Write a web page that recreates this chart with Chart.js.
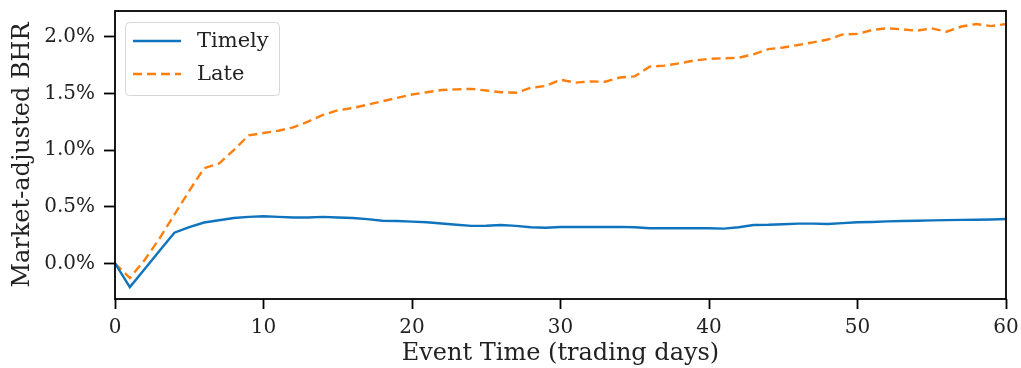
<!DOCTYPE html>
<html>
<head>
<meta charset="utf-8">
<script src="https://cdn.jsdelivr.net/npm/chart.js@4"></script>
<style>
  html, body { margin: 0; padding: 0; background: #fff; }
  #wrap { width: 1021px; height: 368px; }
</style>
</head>
<body>
<div id="wrap"><canvas id="bhrChart" width="1021" height="368"></canvas></div>
<script>
// Event days 0..60
const days = [];
for (let d = 0; d <= 60; d++) days.push(d);

// Market-adjusted BHR, in percent
const timely = [
  0.00, -0.21, -0.05, 0.11, 0.27, 0.32, 0.36, 0.38, 0.40, 0.41,
  0.415, 0.41, 0.405, 0.405, 0.41, 0.405, 0.40, 0.39, 0.376, 0.373,
  0.368, 0.362, 0.352, 0.34, 0.33, 0.332, 0.338, 0.33, 0.318, 0.314,
  0.32, 0.322, 0.32, 0.32, 0.322, 0.318, 0.31, 0.309, 0.309, 0.309,
  0.309, 0.306, 0.318, 0.338, 0.34, 0.345, 0.35, 0.35, 0.347, 0.355,
  0.362, 0.365, 0.37, 0.373, 0.376, 0.379, 0.381, 0.383, 0.385, 0.387,
  0.391
];
const late = [
  0.00, -0.13, 0.03, 0.22, 0.43, 0.64, 0.84, 0.88, 1.00, 1.13,
  1.15, 1.17, 1.20, 1.25, 1.31, 1.35, 1.37, 1.40, 1.43, 1.46,
  1.49, 1.51, 1.53, 1.535, 1.54, 1.525, 1.51, 1.505, 1.55, 1.565,
  1.62, 1.595, 1.605, 1.603, 1.64, 1.65, 1.735, 1.745, 1.765, 1.79,
  1.805, 1.81, 1.815, 1.845, 1.89, 1.905, 1.927, 1.95, 1.975, 2.02,
  2.025, 2.06, 2.075, 2.065, 2.053, 2.074, 2.044, 2.09, 2.112, 2.094,
  2.112
];
const yTicks = [0, 0.5, 1.0, 1.5, 2.0];
const xTicks = [0, 10, 20, 30, 40, 50, 60];

const serif = "'DejaVu Serif', serif";
const blue = '#0f74bd';
const orange = '#ff7f0e';
const ink = '#222';

// frame around the plot + legend inside the axes
const framePlugin = {
  id: 'frame',
  afterDatasetsDraw(chart) {
    const { ctx, chartArea: a } = chart;
    ctx.save();
    ctx.strokeStyle = '#000';
    ctx.lineWidth = 1.8;
    ctx.strokeRect(a.left, a.top, a.right - a.left, a.bottom - a.top);

    // legend box
    const bx = 125, by = 22, bw = 154, bh = 73;
    ctx.fillStyle = 'rgba(255,255,255,0.8)';
    ctx.strokeStyle = '#d6d6d6';
    ctx.lineWidth = 1;
    ctx.beginPath();
    ctx.roundRect(bx + 0.5, by + 0.5, bw, bh, 4);
    ctx.fill();
    ctx.stroke();

    const rows = [41, 74];
    ctx.font = '21px ' + serif;
    ctx.textBaseline = 'middle';
    chart.data.datasets.forEach((ds, i) => {
      ctx.strokeStyle = ds.borderColor;
      ctx.lineWidth = ds.borderWidth;
      ctx.setLineDash(ds.borderDash || []);
      ctx.beginPath();
      ctx.moveTo(133, rows[i]);
      ctx.lineTo(181, rows[i]);
      ctx.stroke();
      ctx.setLineDash([]);
      ctx.fillStyle = ink;
      ctx.fillText(ds.label, 197, rows[i] + 1);
    });
    ctx.restore();
  }
};

new Chart(document.getElementById('bhrChart'), {
  type: 'line',
  data: {
    labels: days,
    datasets: [{
      label: 'Timely',
      data: timely,
      borderColor: blue,
      borderWidth: 2.4,
      pointRadius: 0,
      tension: 0
    }, {
      label: 'Late',
      data: late,
      borderColor: orange,
      borderWidth: 2.4,
      borderDash: [9, 5],
      pointRadius: 0,
      tension: 0
    }]
  },
  options: {
    responsive: false,
    animation: false,
    layout: { padding: { top: 11, right: 15, left: 0, bottom: 0 } },
    plugins: {
      legend: { display: false },
      tooltip: { enabled: false }
    },
    scales: {
      x: {
        type: 'linear',
        min: 0,
        max: 60,
        afterFit(s) {
          s.height = 69;
          s.paddingLeft = 0; s.paddingRight = 0;
        },
        afterBuildTicks(s) { s.ticks = xTicks.map(v => ({ value: v })); },
        grid: {
          drawOnChartArea: false,
          drawTicks: true,
          tickLength: 10,
          tickWidth: 1.8,
          tickColor: '#000'
        },
        border: { display: false },
        ticks: {
          color: ink,
          padding: 7,
          maxRotation: 0,
          font: { family: serif, size: 20 }
        },
        title: {
          display: true,
          text: 'Event Time (trading days)',
          color: ink,
          padding: { top: 0, bottom: 0 },
          font: { family: serif, size: 24 }
        }
      },
      y: {
        min: -0.315,
        max: 2.227,
        afterFit(s) {
          s.width = 115;
          s.paddingTop = 0; s.paddingBottom = 0;
        },
        afterBuildTicks(s) { s.ticks = yTicks.map(v => ({ value: v })); },
        grid: {
          drawOnChartArea: false,
          drawTicks: true,
          tickLength: 11,
          tickWidth: 1.8,
          tickColor: '#000'
        },
        border: { display: false },
        ticks: {
          color: ink,
          padding: 9,
          font: { family: serif, size: 20 },
          callback: v => v.toFixed(1) + '%'
        },
        title: {
          display: true,
          text: 'Market-adjusted BHR',
          color: ink,
          padding: { top: 8, bottom: 0 },
          font: { family: serif, size: 24 }
        }
      }
    }
  },
  plugins: [framePlugin]
});
</script>
</body>
</html>
